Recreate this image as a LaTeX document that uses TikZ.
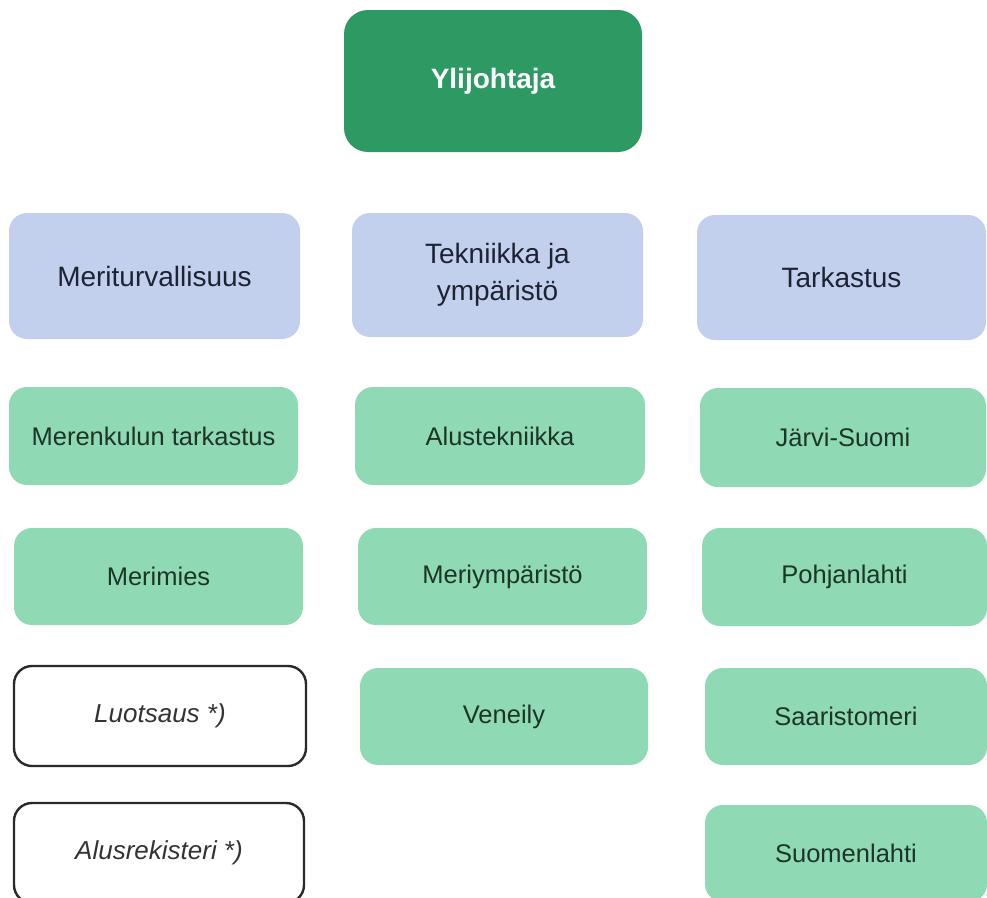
\documentclass[tikz,border=0pt]{standalone}
\usepackage{fontspec}
\setmainfont{Liberation Sans}
\begin{document}
\begin{tikzpicture}[x=1pt,y=-1pt,
  box/.style={rectangle, rounded corners=18pt, inner sep=0pt, align=center},
  topbox/.style={box, fill=topgreen, text=white, font=\fontsize{28}{32}\selectfont\bfseries, rounded corners=24pt},
  bluebox/.style={box, fill=paleblue, text=bluetext, font=\fontsize{28}{37}\selectfont},
  greenbox/.style={box, fill=palegreen, text=greentext, font=\fontsize{25.5}{30}\selectfont},
  whitebox/.style={box, fill=white, draw=boxline, line width=2.4pt, text=greytext, font=\fontsize{26}{30}\selectfont\itshape}
]
\definecolor{topgreen}{HTML}{2E9A63}
\definecolor{paleblue}{HTML}{C2D0EE}
\definecolor{palegreen}{HTML}{90D9B5}
\definecolor{bluetext}{HTML}{1E2333}
\definecolor{greentext}{HTML}{1C3527}
\definecolor{greytext}{HTML}{333333}
\definecolor{boxline}{HTML}{2A2A2A}
\useasboundingbox (0,0) rectangle (987,897);
\clip (0,0) rectangle (987,897);
\fill[white] (0,0) rectangle (987,897);

\node[topbox, minimum width=298pt, minimum height=142pt] (yl) at (493,81) {Ylijohtaja};

\node[bluebox, minimum width=291pt, minimum height=126pt] (mt) at (154.5,276) {Meriturvallisuus};
\node[bluebox, minimum width=291pt, minimum height=124pt] (te) at (497.5,275) {Tekniikka ja\\ympäristö};
\node[bluebox, minimum width=289pt, minimum height=125pt] (ta) at (841.5,277.5) {Tarkastus};

\node[greenbox, minimum width=289pt, minimum height=98pt] (mk) at (153.5,436) {Merenkulun tarkastus};
\node[greenbox, minimum width=290pt, minimum height=98pt] (al) at (500,436) {Alustekniikka};
\node[greenbox, minimum width=286pt, minimum height=99pt] (js) at (843,437.5) {Järvi-Suomi};

\node[greenbox, minimum width=289pt, minimum height=97pt] (mm) at (158.5,576.5) {Merimies};
\node[greenbox, minimum width=289pt, minimum height=97pt] (me) at (502.5,576.5) {Meriympäristö};
\node[greenbox, minimum width=285pt, minimum height=98pt] (po) at (844.5,577) {Pohjanlahti};

\node[whitebox, minimum width=292pt, minimum height=100pt] (lu) at (160,716) {Luotsaus *)};
\node[greenbox, minimum width=288pt, minimum height=97pt] (ve) at (504,716.5) {Veneily};
\node[greenbox, minimum width=282pt, minimum height=97pt] (sa) at (846,716.5) {Saaristomeri};

\node[whitebox, minimum width=290pt, minimum height=100pt] (ar) at (159,853) {Alusrekisteri *)};
\node[greenbox, minimum width=282pt, minimum height=97pt] (su) at (846,853.5) {Suomenlahti};
\end{tikzpicture}
\end{document}
